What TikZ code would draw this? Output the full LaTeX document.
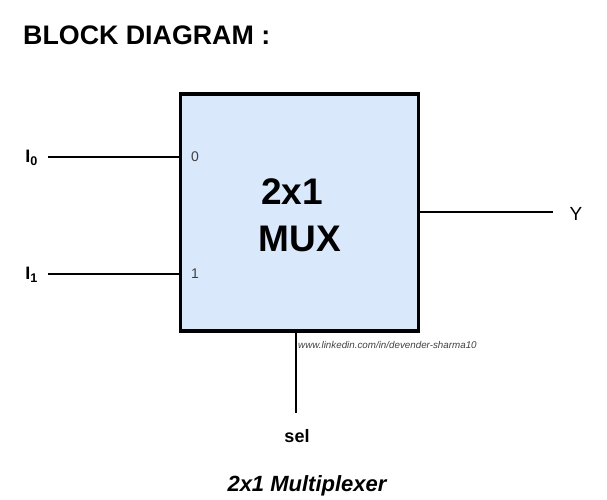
\documentclass[tikz,border=0pt]{standalone}
\usepackage{fontspec}
\setmainfont{Liberation Sans}
\usepackage{tikz}
\usetikzlibrary{positioning}

\definecolor{muxfill}{HTML}{DAE8FC}

\begin{document}
\begin{tikzpicture}[x=1pt, y=-1pt,
  wire/.style={line width=2.8pt},
  pinlbl/.style={font=\fontsize{14}{14}\selectfont, text=black!75, inner sep=0pt},
  sig/.style={font=\bfseries\fontsize{18}{18}\selectfont, inner sep=0pt}]
  \useasboundingbox (0,0) rectangle (607,500);

  % titre
  \node[anchor=west, inner sep=0pt, font=\bfseries\fontsize{26.8}{26.8}\selectfont] (title) at (23,35) {BLOCK DIAGRAM :};

  % bloc MUX
  \node[draw, line width=3.2pt, fill=muxfill, minimum width=238pt, minimum height=237pt, inner sep=0pt] (mux) at (299.5,212.5) {};
  \node[font=\bfseries\fontsize{37}{37}\selectfont, inner sep=0pt] (t2x1) at (292,192) {2x1};
  \node[font=\bfseries\fontsize{37}{37}\selectfont, inner sep=0pt] (tmux) at (300,239) {MUX};

  % entrées
  \node[sig, anchor=east] (i0) at (38,158) {I\textsubscript{0}};
  \node[sig, anchor=east] (i1) at (38,275) {I\textsubscript{1}};
  \coordinate (i0s) at (48,157);
  \coordinate (i1s) at (48,274);
  \draw[wire] (i0s) -- (mux.west |- i0s);
  \draw[wire] (i1s) -- (mux.west |- i1s);
  \node[pinlbl] (p0) at (195,157) {0};
  \node[pinlbl] (p1) at (195,274) {1};

  % sortie
  \node[sig, font=\fontsize{19}{19}\selectfont] (y) at (576,214) {Y};
  \coordinate (ye) at (553,212);
  \draw[wire] (mux.east |- ye) -- (ye);

  % sélection
  \node[sig, anchor=north] (sel) at (297,429) {sel};
  \coordinate (sele) at (296,413);
  \draw[wire] (mux.south -| sele) -- (sele);
  \node[anchor=west, inner sep=0pt, font=\itshape\fontsize{9.8}{9.8}\selectfont, text=black!75] (url) at (298,345) {www.linkedin.com/in/devender-sharma10};

  % légende
  \node[font=\bfseries\itshape\fontsize{22}{22}\selectfont, inner sep=0pt] (caption) at (307,486) {2x1 Multiplexer};
\end{tikzpicture}
\end{document}
